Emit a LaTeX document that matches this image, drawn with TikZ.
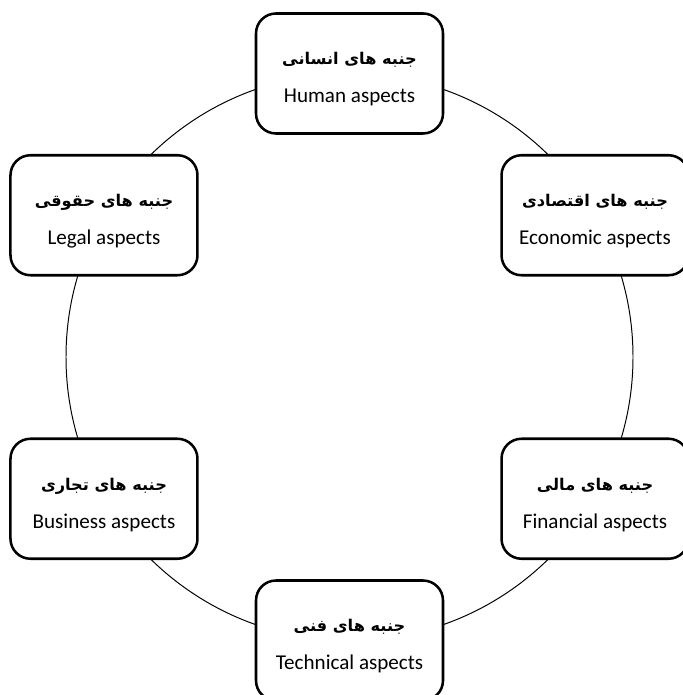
\documentclass[tikz,border=0pt]{standalone}
\usepackage{fontspec}
\setmainfont{Carlito}
\newfontfamily\farsi[Script=Arabic]{DejaVu Sans}
\TeXXeTstate=1
\usetikzlibrary{calc}

\newcommand{\fa}[1]{{\farsi\bfseries\fontsize{11.5}{15}\selectfont\rule{0pt}{0.6cm}\beginR #1\endR}}

\begin{document}
\begin{tikzpicture}[
    every node/.style = {rectangle, rounded corners=0.5cm, draw, fill=white,
        line width=1.8pt, minimum width=4.675cm, minimum height=3cm,
        align=center, font=\fontsize{15}{27}\selectfont}
]
    \useasboundingbox (0,0) rectangle (17.05,17.375);
    \coordinate (C) at (8.7375,8.45);
    \draw[line width=0.7pt] (C) circle[radius=7.0875cm];

    \node (human) at ($(C)+(90:7.0875)$) {\fa{جنبه های انسانی}\\Human aspects};
    \node (econ) at ($(C)+(30:7.0875)$) {\fa{جنبه های اقتصادی}\\Economic aspects};
    \node (fin) at ($(C)+(-30:7.0875)$) {\fa{جنبه های مالی}\\Financial aspects};
    \node (tech) at ($(C)+(-90:7.0875)$) {\fa{جنبه های فنی}\\Technical aspects};
    \node (bus) at ($(C)+(-150:7.0875)$) {\fa{جنبه های تجاری}\\Business aspects};
    \node (legal) at ($(C)+(150:7.0875)$) {\fa{جنبه های حقوقی}\\Legal aspects};
\end{tikzpicture}
\end{document}
